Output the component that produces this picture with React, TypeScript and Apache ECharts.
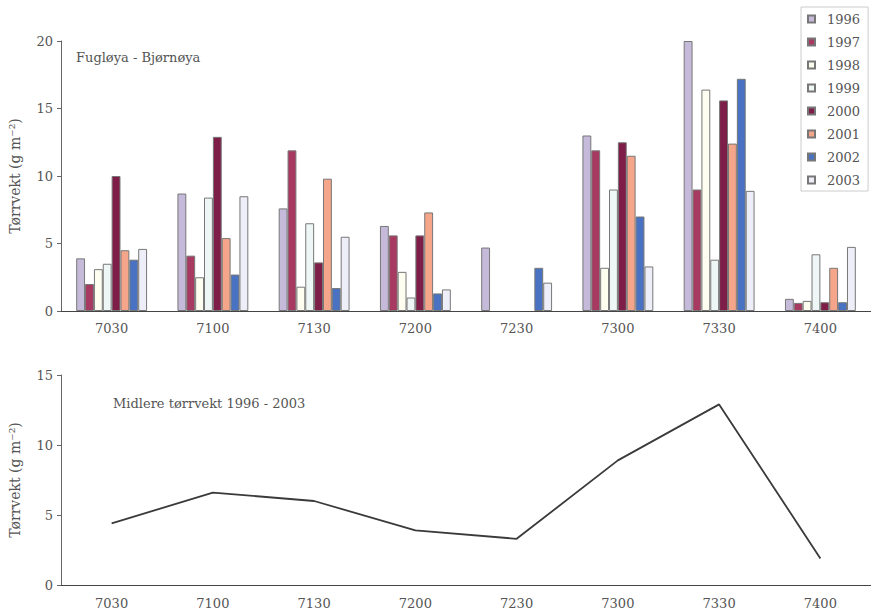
import React, { useEffect, useRef } from "react";
import * as echarts from "echarts";

// Stations along the Fugløya - Bjørnøya section
const stations = ["7030", "7100", "7130", "7200", "7230", "7300", "7330", "7400"];
const years = ["1996", "1997", "1998", "1999", "2000", "2001", "2002", "2003"];

// Dry weight (g m-2) per year, one value per station (null = no sample)
const y1996 = [3.9, 8.7, 7.6, 6.3, 4.7, 13.0, 20.0, 0.9];
const y1997 = [2.0, 4.1, 11.9, 5.6, null, 11.9, 9.0, 0.6];
const y1998 = [3.1, 2.5, 1.8, 2.9, null, 3.2, 16.4, 0.75];
const y1999 = [3.5, 8.4, 6.5, 1.0, null, 9.0, 3.8, 4.2];
const y2000 = [10.0, 12.9, 3.6, 5.6, null, 12.5, 15.6, 0.65];
const y2001 = [4.5, 5.4, 9.8, 7.3, null, 11.5, 12.4, 3.2];
const y2002 = [3.8, 2.7, 1.7, 1.3, 3.2, 7.0, 17.2, 0.65];
const y2003 = [4.6, 8.5, 5.5, 1.6, 2.1, 3.3, 8.9, 4.75];

// Mean dry weight 1996 - 2003
const meanWeight = [4.4, 6.6, 6.0, 3.9, 3.3, 8.9, 12.9, 1.9];

const yearValues = [y1996, y1997, y1998, y1999, y2000, y2001, y2002, y2003];
const yearColors = [
  "#c6bada",
  "#a83a62",
  "#fdfdf0",
  "#eef7f5",
  "#7e1e48",
  "#f5a68a",
  "#4a72c2",
  "#eeeef8",
];

const FONT = "DejaVu Serif";
const TEXT = "#555";

export default function App() {
  const ref = useRef<HTMLDivElement>(null);

  useEffect(() => {
    if (!ref.current) return;
    const chart = echarts.init(ref.current, undefined, { renderer: "svg" });

    const barSeries = years.map((y, i) => ({
      name: y,
      type: "bar",
      xAxisIndex: 0,
      yAxisIndex: 0,
      data: yearValues[i],
      barGap: "0%",
      barCategoryGap: "30%",
      itemStyle: { color: yearColors[i], borderColor: "#777", borderWidth: 1 },
    }));

    const yName = "Tørrvekt (g m⁻²)";
    const axisLabel = { color: TEXT, fontFamily: FONT, fontSize: 13 };

    chart.setOption({
      animation: false,
      backgroundColor: "#fff",
      textStyle: { fontFamily: FONT },
      legend: {
        orient: "vertical",
        left: 801,
        top: 7,
        data: years,
        itemWidth: 7,
        itemHeight: 7,
        itemGap: 9,
        icon: "rect",
        backgroundColor: "#fff",
        borderColor: "#ccc",
        borderWidth: 1,
        padding: [5, 8, 4, 6],
        textStyle: { color: TEXT, fontFamily: FONT, fontSize: 13, lineHeight: 14, padding: [0, 0, 0, 7] },
      },
      grid: [
        { left: 56, top: 41, width: 817, height: 270 },
        { left: 56, top: 375, width: 817, height: 210 },
      ],
      xAxis: [
        {
          type: "category",
          gridIndex: 0,
          data: stations,
          axisLine: { lineStyle: { color: "#444", width: 1 } },
          axisTick: { length: 2, lineStyle: { color: "#aaa" } },
          axisLabel: { ...axisLabel, margin: 11 },
        },
        {
          type: "category",
          gridIndex: 1,
          data: stations,
          axisLine: { lineStyle: { color: "#444", width: 1 } },
          axisTick: { length: 2, lineStyle: { color: "#aaa" } },
          axisLabel: { ...axisLabel, margin: 12 },
        },
      ],
      yAxis: [
        {
          type: "value",
          gridIndex: 0,
          min: 0,
          max: 20,
          interval: 5,
          name: yName,
          nameLocation: "middle",
          nameGap: 39,
          nameTextStyle: { color: TEXT, fontFamily: FONT, fontSize: 14 },
          axisLine: { show: true, lineStyle: { color: "#666" } },
          axisTick: { show: true, length: 4, lineStyle: { color: "#666" } },
          splitLine: { show: false },
          axisLabel: { ...axisLabel, margin: 8 },
        },
        {
          type: "value",
          gridIndex: 1,
          min: 0,
          max: 15,
          interval: 5,
          name: yName,
          nameLocation: "middle",
          nameGap: 39,
          nameTextStyle: { color: TEXT, fontFamily: FONT, fontSize: 14 },
          axisLine: { show: true, lineStyle: { color: "#666" } },
          axisTick: { show: true, length: 4, lineStyle: { color: "#666" } },
          splitLine: { show: false },
          axisLabel: { ...axisLabel, margin: 8 },
        },
      ],
      graphic: [
        {
          type: "text",
          left: 76,
          top: 51,
          style: { text: "Fugløya - Bjørnøya", fill: TEXT, font: `13px "${FONT}"` },
        },
        {
          type: "text",
          left: 113,
          top: 397,
          style: { text: "Midlere tørrvekt 1996 - 2003", fill: TEXT, font: `13px "${FONT}"` },
        },
      ],
      series: [
        ...barSeries,
        {
          name: "Midlere tørrvekt",
          type: "line",
          xAxisIndex: 1,
          yAxisIndex: 1,
          data: meanWeight,
          symbol: "none",
          lineStyle: { color: "#3a3a3a", width: 1.8 },
        },
      ],
    });

    return () => chart.dispose();
  }, []);

  return (
    <div
      ref={ref}
      style={{ position: "fixed", left: 0, top: 0, width: 871, height: 613 }}
    />
  );
}
